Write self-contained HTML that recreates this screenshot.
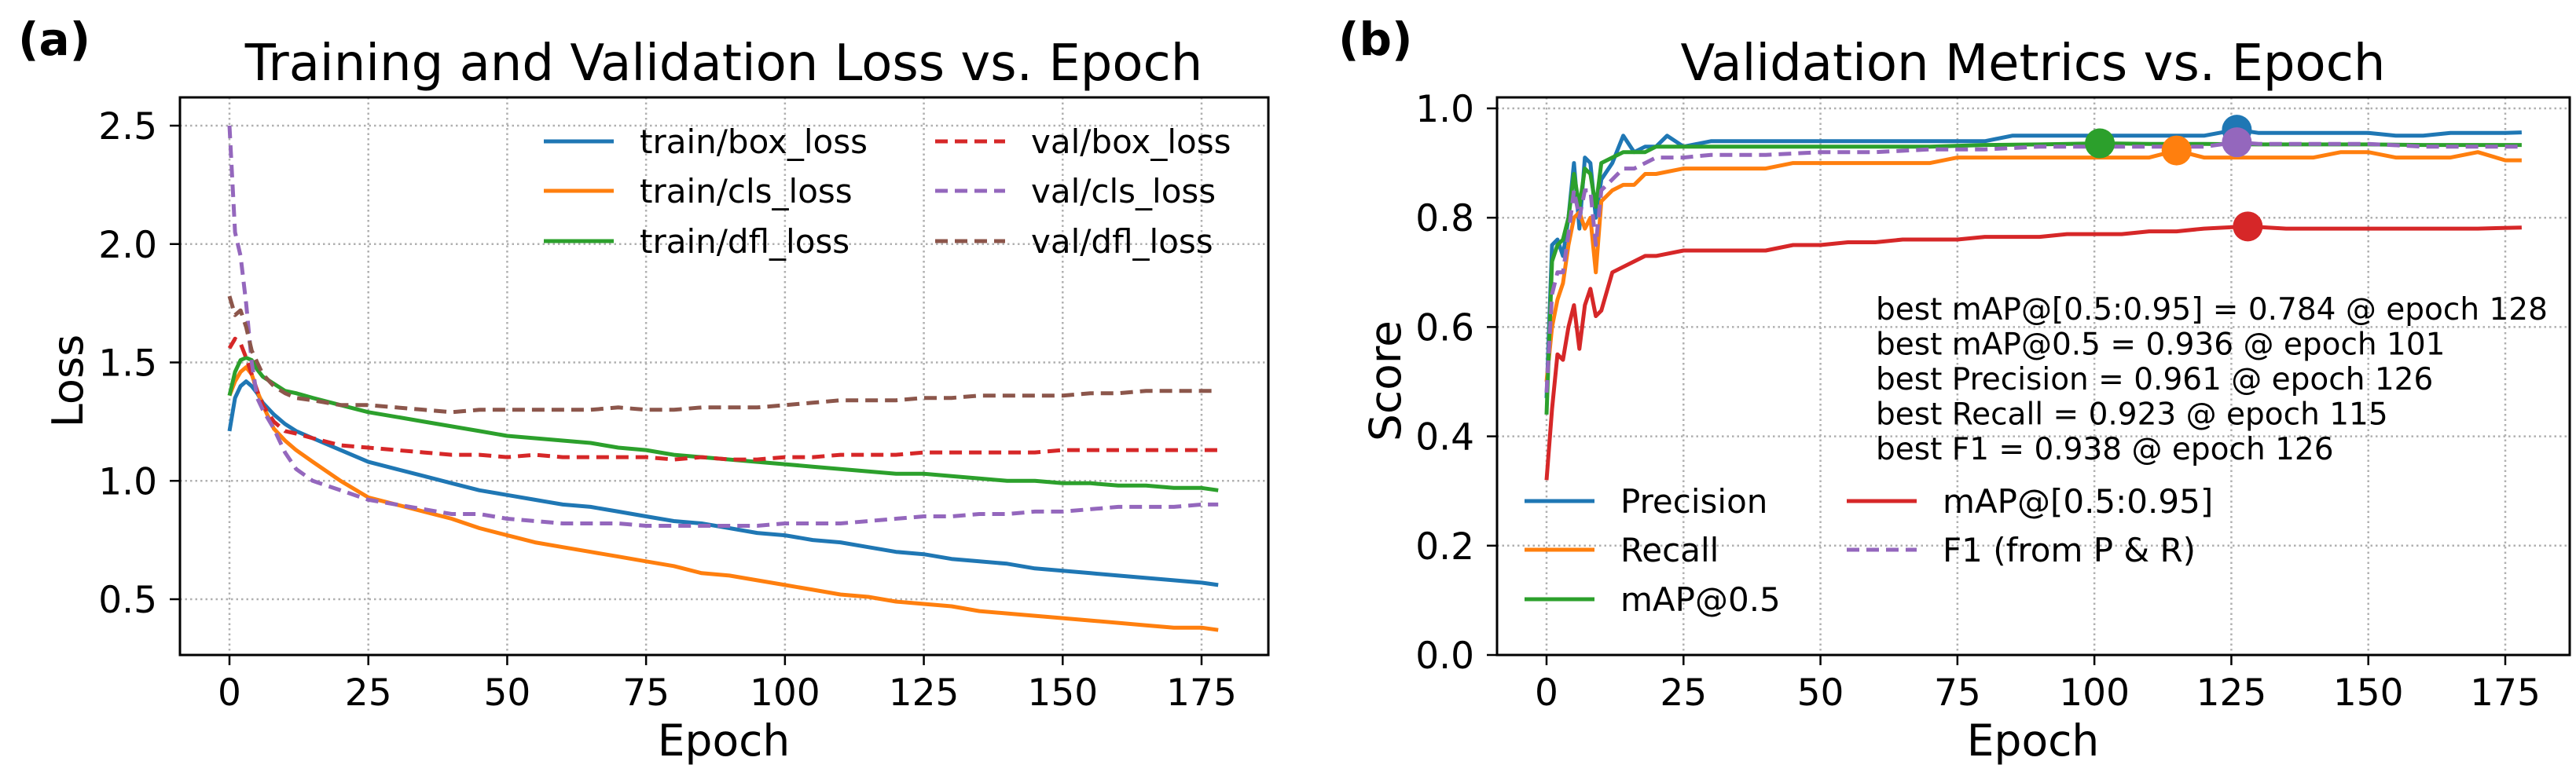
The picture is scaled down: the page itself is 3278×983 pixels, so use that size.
<!DOCTYPE html>
<html><head><meta charset="utf-8"><style>
html,body{margin:0;padding:0;background:#fff;}
svg{display:block;font-family:"DejaVu Sans","Liberation Sans",sans-serif;}
</style></head><body>
<svg id="fig" width="3278" height="983" viewBox="0 0 3278 983" xmlns="http://www.w3.org/2000/svg">
  <text x="23" y="70" font-size="58" font-weight="bold">(a)</text>
  <text x="1703" y="70" font-size="58" font-weight="bold">(b)</text>
  <text x="921" y="102" font-size="64" text-anchor="middle">Training and Validation Loss vs. Epoch</text>
  <text x="2587" y="102" font-size="64" text-anchor="middle">Validation Metrics vs. Epoch</text>
  <text x="921" y="962" font-size="55" text-anchor="middle">Epoch</text>
  <text x="2587" y="962" font-size="55" text-anchor="middle">Epoch</text>
  <text x="105" y="485" font-size="54" text-anchor="middle" transform="rotate(-90 105 485)">Loss</text>
  <text x="1782" y="485" font-size="55" text-anchor="middle" transform="rotate(-90 1782 485)">Score</text>
</svg>
<script>
// ---- Left chart data ----
const lossEpochs=[0,1,2,3,4,5,6,8,10,12,15,20,25,30,35,40,45,50,55,60,65,70,75,80,85,90,95,100,105,110,115,120,125,130,135,140,145,150,155,160,165,170,175,178];
const trainBox=[1.21,1.35,1.40,1.42,1.40,1.37,1.33,1.28,1.24,1.21,1.18,1.13,1.08,1.05,1.02,0.99,0.96,0.94,0.92,0.90,0.89,0.87,0.85,0.83,0.82,0.80,0.78,0.77,0.75,0.74,0.72,0.70,0.69,0.67,0.66,0.65,0.63,0.62,0.61,0.60,0.59,0.58,0.57,0.56];
const trainCls=[1.36,1.42,1.46,1.48,1.45,1.38,1.32,1.22,1.17,1.13,1.08,1.00,0.93,0.90,0.87,0.84,0.80,0.77,0.74,0.72,0.70,0.68,0.66,0.64,0.61,0.60,0.58,0.56,0.54,0.52,0.51,0.49,0.48,0.47,0.45,0.44,0.43,0.42,0.41,0.40,0.39,0.38,0.38,0.37];
const trainDfl=[1.36,1.46,1.51,1.52,1.51,1.47,1.44,1.41,1.38,1.37,1.35,1.32,1.29,1.27,1.25,1.23,1.21,1.19,1.18,1.17,1.16,1.14,1.13,1.11,1.10,1.09,1.08,1.07,1.06,1.05,1.04,1.03,1.03,1.02,1.01,1.00,1.00,0.99,0.99,0.98,0.98,0.97,0.97,0.96];
const valBox=[1.56,1.60,1.58,1.52,1.45,1.38,1.32,1.25,1.21,1.20,1.18,1.15,1.14,1.13,1.12,1.11,1.11,1.10,1.11,1.10,1.10,1.10,1.10,1.09,1.10,1.09,1.09,1.10,1.10,1.11,1.11,1.11,1.12,1.12,1.12,1.12,1.12,1.13,1.13,1.13,1.13,1.13,1.13,1.13];
const valCls=[2.50,2.05,1.95,1.75,1.50,1.35,1.30,1.22,1.12,1.05,1.00,0.96,0.92,0.90,0.88,0.86,0.86,0.84,0.83,0.82,0.82,0.82,0.81,0.81,0.81,0.81,0.81,0.82,0.82,0.82,0.83,0.84,0.85,0.85,0.86,0.86,0.87,0.87,0.88,0.89,0.89,0.89,0.90,0.90];
const valDfl=[1.78,1.70,1.72,1.65,1.55,1.50,1.45,1.40,1.37,1.35,1.34,1.32,1.32,1.31,1.30,1.29,1.30,1.30,1.30,1.30,1.30,1.31,1.30,1.30,1.31,1.31,1.31,1.32,1.33,1.34,1.34,1.34,1.35,1.35,1.36,1.36,1.36,1.36,1.37,1.37,1.38,1.38,1.38,1.38];
const lossYTicks=[0.5,1.0,1.5,2.0,2.5];
const xTicks=[0,25,50,75,100,125,150,175];
// ---- Right chart data ----
const pEp=[0,1,2,3,4,5,6,7,8,9,10,12,14,16,18,20,22,25,30,35,40,45,50,55,60,65,70,75,80,85,90,95,100,105,110,115,120,126,130,135,140,145,150,155,160,165,170,175,178];
const precision=[0.47,0.75,0.76,0.73,0.80,0.90,0.78,0.91,0.90,0.80,0.87,0.90,0.95,0.92,0.93,0.93,0.95,0.93,0.94,0.94,0.94,0.94,0.94,0.94,0.94,0.94,0.94,0.94,0.94,0.95,0.95,0.95,0.95,0.95,0.95,0.95,0.95,0.961,0.955,0.955,0.955,0.955,0.955,0.95,0.95,0.955,0.955,0.955,0.956];
const rEp=[0,1,2,3,4,5,6,7,8,9,10,12,14,16,18,20,25,30,35,40,45,50,55,60,65,70,75,80,85,90,95,100,105,110,115,120,125,130,135,140,145,150,155,160,165,170,175,178];
const recall=[0.50,0.60,0.65,0.68,0.75,0.80,0.81,0.78,0.80,0.70,0.83,0.85,0.86,0.86,0.88,0.88,0.89,0.89,0.89,0.89,0.90,0.90,0.90,0.90,0.90,0.90,0.91,0.91,0.91,0.91,0.91,0.91,0.91,0.91,0.923,0.91,0.91,0.91,0.91,0.91,0.92,0.92,0.91,0.91,0.91,0.92,0.905,0.905];
const m50Ep=[0,1,2,3,4,5,6,7,8,9,10,12,14,16,18,20,25,30,40,50,60,70,80,90,101,110,120,130,140,150,160,170,178];
const map50=[0.44,0.72,0.75,0.76,0.80,0.88,0.82,0.89,0.88,0.82,0.90,0.91,0.92,0.92,0.92,0.93,0.93,0.93,0.93,0.93,0.93,0.93,0.933,0.934,0.936,0.935,0.935,0.934,0.934,0.934,0.933,0.933,0.933];
const mEp=[0,1,2,3,4,5,6,7,8,9,10,12,14,16,18,20,25,30,35,40,45,50,55,60,65,70,75,80,85,90,95,100,105,110,115,120,128,135,140,150,160,170,178];
const map5095=[0.32,0.45,0.55,0.54,0.60,0.64,0.56,0.64,0.67,0.62,0.63,0.70,0.71,0.72,0.73,0.73,0.74,0.74,0.74,0.74,0.75,0.75,0.755,0.755,0.76,0.76,0.76,0.765,0.765,0.765,0.77,0.77,0.77,0.775,0.775,0.78,0.784,0.78,0.78,0.78,0.78,0.78,0.782];
const fEp=[0,1,2,3,4,5,6,7,8,9,10,12,14,16,18,20,25,30,40,50,60,70,80,90,100,110,120,126,130,140,150,160,170,178];
const f1=[0.48,0.66,0.70,0.70,0.77,0.85,0.80,0.85,0.85,0.75,0.85,0.87,0.89,0.89,0.90,0.91,0.91,0.915,0.915,0.92,0.92,0.925,0.925,0.93,0.93,0.93,0.93,0.938,0.935,0.935,0.935,0.93,0.93,0.93];
const bestNames=["mAP50","Recall","Precision","F1","mAP5095"];
const bestEpochs=[101,115,126,126,128];
const bestValues=[0.936,0.923,0.961,0.938,0.784];
const scoreYTicks=[0.0,0.2,0.4,0.6,0.8,1.0];

const NS="http://www.w3.org/2000/svg";
const svg=document.getElementById('fig');
function el(tag,attrs,parent,text){const e=document.createElementNS(NS,tag);for(const k in attrs)e.setAttribute(k,attrs[k]);if(text!==undefined)e.textContent=text;(parent||svg).appendChild(e);return e;}
const C={blue:'#1f77b4',orange:'#ff7f0e',green:'#2ca02c',red:'#d62728',purple:'#9467bd',brown:'#8c564b'};

function axes(o){
  const g=el('g',{});
  
  
  const xs=v=>o.x0+(v-0)*(o.x175-o.x0)/175;
  const ys=v=>o.yA+(v-o.vA)*(o.yB-o.yA)/(o.vB-o.vA);
  xTicks.forEach(t=>{const l=el('line',{x1:xs(t),x2:xs(t),y1:o.top,y2:o.bot,stroke:'#b0b0b0','stroke-width':2.5,'stroke-dasharray':'2.5,4'},g);
    });
  o.yTicks.forEach(t=>{const l=el('line',{x1:o.left,x2:o.right,y1:ys(t),y2:ys(t),stroke:'#b0b0b0','stroke-width':2.5,'stroke-dasharray':'2.5,4'},g);
    });
  xTicks.forEach(t=>{el('line',{x1:xs(t),x2:xs(t),y1:o.bot,y2:o.bot+13,stroke:'#000','stroke-width':2.5},g);
    const tx=el('text',{x:xs(t),y:o.bot+64,'font-size':47,'text-anchor':'middle'},g,String(t));
    });
  o.yTicks.forEach(t=>{el('line',{x1:o.left-13,x2:o.left,y1:ys(t),y2:ys(t),stroke:'#000','stroke-width':2.5},g);
    const tx=el('text',{x:o.left-29,y:ys(t)+17,'font-size':47,'text-anchor':'end'},g,t.toFixed(1));
    });
  return {g,xs,ys};
}
function series(a,ep,vals,color,dash,name){
  const d=ep.map((e,i)=>(i?'L':'M')+a.xs(e).toFixed(1)+','+a.ys(vals[i]).toFixed(1)).join(' ');
  const p=el('path',{d,fill:'none',stroke:color,'stroke-width':5,'stroke-linejoin':'round','stroke-dasharray':dash?'16,9':'none'},a.g);
  
}
function legendItem(x,y,color,dash,label,name){
  const g=el('g',{});
  
  el('line',{x1:x,x2:x+89,y1:y,y2:y,stroke:color,'stroke-width':5,'stroke-dasharray':dash?'16,9':'none'},g);
  el('text',{x:x+122,y:y+15,'font-size':42},g,label);
}
function frame(o){const r=el('rect',{x:o.left,y:o.top,width:o.right-o.left,height:o.bot-o.top,fill:'none',stroke:'#000','stroke-width':3});
  }

// Left
const L={name:'loss-chart',left:229,right:1614,top:124,bot:834,x0:292,x175:1529,yA:160,vA:2.5,yB:763,vB:0.5,yTicks:lossYTicks};
const a1=axes(L);
series(a1,lossEpochs,trainBox,C.blue,false,'train-box-loss-line');
series(a1,lossEpochs,trainCls,C.orange,false,'train-cls-loss-line');
series(a1,lossEpochs,trainDfl,C.green,false,'train-dfl-loss-line');
series(a1,lossEpochs,valBox,C.red,true,'val-box-loss-line');
series(a1,lossEpochs,valCls,C.purple,true,'val-cls-loss-line');
series(a1,lossEpochs,valDfl,C.brown,true,'val-dfl-loss-line');
frame(L);
legendItem(692,180,C.blue,false,'train/box_loss','legend-train-box');
legendItem(692,243,C.orange,false,'train/cls_loss','legend-train-cls');
legendItem(692,307,C.green,false,'train/dfl_loss','legend-train-dfl');
legendItem(1190,180,C.red,true,'val/box_loss','legend-val-box');
legendItem(1190,243,C.purple,true,'val/cls_loss','legend-val-cls');
legendItem(1190,307,C.brown,true,'val/dfl_loss','legend-val-dfl');

// Right
const R={name:'metrics-chart',left:1905,right:3270,top:124,bot:834,x0:1968,x175:3188,yA:834,vA:0,yB:138,vB:1,yTicks:scoreYTicks};
const a2=axes(R);
series(a2,pEp,precision,C.blue,false,'precision-line');
series(a2,rEp,recall,C.orange,false,'recall-line');
series(a2,m50Ep,map50,C.green,false,'map50-line');
series(a2,mEp,map5095,C.red,false,'map5095-line');
series(a2,fEp,f1,C.purple,true,'f1-line');
const bestColors=[C.green,C.orange,C.blue,C.purple,C.red];
bestEpochs.forEach((e,i)=>{const c=el('circle',{cx:a2.xs(e),cy:a2.ys(bestValues[i]),r:19,fill:bestColors[i]},a2.g);
  });
frame(R);
const notes=['best mAP@[0.5:0.95] = 0.784 @ epoch 128','best mAP@0.5 = 0.936 @ epoch 101','best Precision = 0.961 @ epoch 126','best Recall = 0.923 @ epoch 115','best F1 = 0.938 @ epoch 126'];
notes.forEach((t,i)=>{const tx=el('text',{x:2387,y:407+i*44.5,'font-size':39},svg,t);
  });
legendItem(1940,638,C.blue,false,'Precision','legend-precision');
legendItem(1940,700,C.orange,false,'Recall','legend-recall');
legendItem(1940,763,C.green,false,'mAP@0.5','legend-map50');
legendItem(2350,638,C.red,false,'mAP@[0.5:0.95]','legend-map5095');
legendItem(2350,700,C.purple,true,'F1 (from P & R)','legend-f1');
</script>
</body></html>
